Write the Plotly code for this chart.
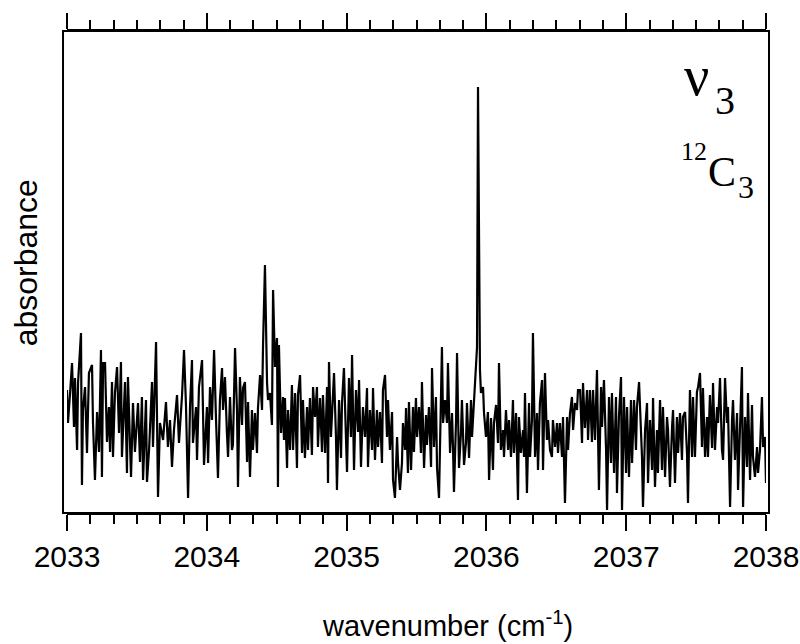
import plotly.graph_objects as go

wavenumber = [
    2033.000, 2033.007, 2033.021, 2033.036, 2033.050, 2033.057, 2033.072, 2033.079, 2033.100, 2033.107,
    2033.114, 2033.129, 2033.143, 2033.157, 2033.179, 2033.186, 2033.200, 2033.215, 2033.229, 2033.243,
    2033.250, 2033.258, 2033.272, 2033.286, 2033.300, 2033.308, 2033.322, 2033.329, 2033.343, 2033.358,
    2033.372, 2033.386, 2033.393, 2033.415, 2033.429, 2033.436, 2033.458, 2033.472, 2033.486, 2033.508,
    2033.522, 2033.536, 2033.544, 2033.565, 2033.572, 2033.587, 2033.608, 2033.615, 2033.637, 2033.651,
    2033.665, 2033.687, 2033.708, 2033.722, 2033.737, 2033.751, 2033.765, 2033.787, 2033.801, 2033.823,
    2033.837, 2033.851, 2033.866, 2033.880, 2033.894, 2033.901, 2033.923, 2033.930, 2033.944, 2033.966,
    2033.980, 2034.001, 2034.009, 2034.023, 2034.037, 2034.052, 2034.066, 2034.080, 2034.094, 2034.109,
    2034.116, 2034.130, 2034.144, 2034.152, 2034.166, 2034.180, 2034.187, 2034.202, 2034.216, 2034.223,
    2034.237,
    2034.252, 2034.259, 2034.273, 2034.288, 2034.295, 2034.309, 2034.323, 2034.330, 2034.345, 2034.359,
    2034.366, 2034.381, 2034.395, 2034.402, 2034.416, 2034.431, 2034.438, 2034.452, 2034.466, 2034.474,
    2034.488, 2034.502, 2034.509, 2034.516, 2034.531, 2034.545, 2034.552, 2034.559, 2034.574, 2034.581,
    2034.595, 2034.609, 2034.617, 2034.631, 2034.645, 2034.652, 2034.667, 2034.681, 2034.688, 2034.702,
    2034.717, 2034.724, 2034.738, 2034.752, 2034.760, 2034.774, 2034.788, 2034.795, 2034.810, 2034.824,
    2034.831, 2034.846, 2034.860, 2034.867, 2034.874, 2034.888, 2034.903, 2034.910, 2034.924, 2034.931,
    2034.946, 2034.960, 2034.967, 2034.981, 2034.996, 2035.003, 2035.017, 2035.031, 2035.039, 2035.053,
    2035.067, 2035.082, 2035.089, 2035.103, 2035.117, 2035.132, 2035.146, 2035.153, 2035.167, 2035.182,
    2035.189, 2035.203, 2035.217, 2035.225, 2035.239, 2035.253, 2035.260, 2035.275, 2035.289, 2035.296,
    2035.310, 2035.325, 2035.332, 2035.346, 2035.361, 2035.368,
    2035.382, 2035.396, 2035.403, 2035.418, 2035.425, 2035.439, 2035.446, 2035.461, 2035.475, 2035.482,
    2035.496, 2035.504, 2035.518, 2035.532, 2035.539, 2035.554, 2035.568, 2035.575, 2035.589, 2035.604,
    2035.611, 2035.625, 2035.639, 2035.647, 2035.661, 2035.675, 2035.682, 2035.690, 2035.704, 2035.718,
    2035.725, 2035.740, 2035.754, 2035.761, 2035.768, 2035.783, 2035.790, 2035.804, 2035.818, 2035.825,
    2035.840, 2035.854, 2035.861, 2035.876, 2035.890, 2035.897, 2035.911, 2035.926, 2035.933, 2035.940,
    2035.954, 2035.961, 2035.976, 2035.983, 2035.997, 2036.011, 2036.019, 2036.033, 2036.047, 2036.054,
    2036.069, 2036.083, 2036.090, 2036.104, 2036.119, 2036.126, 2036.140, 2036.155, 2036.162, 2036.176,
    2036.190, 2036.197, 2036.212, 2036.226, 2036.233, 2036.247, 2036.262, 2036.269, 2036.276, 2036.290,
    2036.305, 2036.312, 2036.326, 2036.333, 2036.348, 2036.362, 2036.369, 2036.383, 2036.398, 2036.405,
    2036.419, 2036.433, 2036.441, 2036.455, 2036.469, 2036.476, 2036.491, 2036.505, 2036.512, 2036.526,
    2036.541, 2036.548, 2036.562, 2036.577, 2036.584, 2036.598, 2036.612, 2036.620, 2036.634, 2036.648,
    2036.655,
    2036.670, 2036.684, 2036.691, 2036.705, 2036.720, 2036.727, 2036.741, 2036.755, 2036.763, 2036.777,
    2036.791, 2036.805, 2036.820, 2036.827, 2036.841, 2036.856, 2036.863, 2036.877, 2036.891, 2036.898,
    2036.913, 2036.927, 2036.934, 2036.948, 2036.963, 2036.970, 2036.984, 2036.999, 2037.006, 2037.020,
    2037.034, 2037.042, 2037.056, 2037.070, 2037.077, 2037.092, 2037.113, 2037.120, 2037.135, 2037.149,
    2037.156, 2037.170, 2037.185, 2037.192, 2037.206, 2037.220, 2037.227, 2037.242, 2037.256, 2037.263,
    2037.278, 2037.292, 2037.299, 2037.313, 2037.328, 2037.335, 2037.349, 2037.363, 2037.371, 2037.385,
    2037.399, 2037.406, 2037.421, 2037.435, 2037.442, 2037.456, 2037.471, 2037.478, 2037.492, 2037.506,
    2037.514, 2037.528, 2037.542, 2037.549, 2037.564, 2037.578, 2037.585, 2037.599, 2037.614, 2037.621,
    2037.635, 2037.650, 2037.657, 2037.671, 2037.685, 2037.693, 2037.707, 2037.721, 2037.728, 2037.743,
    2037.757, 2037.764, 2037.778, 2037.793, 2037.800, 2037.814, 2037.828, 2037.836, 2037.850, 2037.864,
    2037.871, 2037.886, 2037.900, 2037.907, 2037.921, 2037.936, 2037.943, 2037.957, 2037.971, 2037.979,
    2037.993, 2038.000,
]

# absorbance (arbitrary units) of each point
absorbance = [
    130, 97, 125, 157, 93, 142, 70, 137, 187, 35,
    110, 133, 67, 147, 155, 97, 40, 108, 68, 170,
    43, 157, 157, 78, 113, 68, 138, 63, 127, 153,
    87, 158, 63, 138, 47, 143, 43, 117, 68, 117,
    58, 123, 40, 120, 38, 70, 138, 73, 178, 23,
    97, 80, 118, 73, 100, 53, 90, 125, 77, 125,
    170, 115, 22, 113, 160, 77, 113, 60, 133, 160,
    55, 113, 57, 133, 100, 170, 100, 42, 120, 152,
    110, 143, 87, 63, 123, 70, 75, 172, 110, 33,
    143,
    95, 132, 138, 58, 118, 43, 110, 70, 107, 67,
    112, 145, 110, 173, 255, 137, 120, 127, 95, 230,
    153, 182, 33, 175, 87, 123, 80, 122, 52, 110,
    70, 135, 70, 127, 52, 125, 145, 67, 120, 62,
    113, 70, 122, 65, 133, 103, 133, 73, 122, 68,
    125, 67, 133, 37, 158, 83, 123, 147, 83, 30,
    120, 62, 117, 152, 80, 48, 142, 83, 165, 50,
    130, 88, 140, 53, 113, 83, 132, 53, 110, 70,
    132, 60, 110, 73, 108, 57, 130, 145, 83, 120,
    70, 108, 40, 22, 83, 57,
    30, 57, 97, 70, 112, 47, 118, 50, 113, 68,
    122, 83, 113, 67, 138, 52, 105, 75, 113, 53,
    152, 73, 123, 52, 22, 150, 173, 97, 120, 97,
    157, 67, 107, 73, 28, 100, 167, 52, 87, 120,
    55, 77, 117, 62, 120, 83, 120, 160, 173, 433,
    150, 127, 133, 107, 83, 108, 40, 102, 50, 97,
    115, 77, 157, 70, 90, 63, 110, 70, 100, 63,
    120, 67, 107, 20, 103, 67, 90, 63, 127, 27,
    117, 63, 100, 187, 63, 107, 50, 117, 140, 50,
    147, 80, 100, 70, 63, 100, 73, 97, 67, 97,
    63, 103, 17, 103, 70, 107, 123, 90, 117, 110,
    130,
    130, 77, 137, 92, 130, 80, 130, 78, 130, 80,
    150, 30, 133, 93, 140, 70, 10, 123, 57, 127,
    47, 123, 27, 103, 143, 10, 123, 47, 113, 43,
    120, 57, 120, 70, 113, 138, 63, 13, 90, 117,
    37, 100, 50, 122, 33, 90, 47, 120, 50, 113,
    43, 103, 90, 33, 93, 110, 37, 103, 67, 107,
    60, 103, 108, 67, 17, 130, 63, 123, 63, 128,
    133, 147, 73, 132, 63, 103, 63, 125, 72, 137,
    70, 113, 97, 142, 70, 60, 142, 97, 113, 13,
    100, 120, 60, 107, 30, 97, 153, 13, 103, 53,
    127, 40, 115, 63, 43, 73, 47, 70, 123, 73,
    83, 37,
]

assert len(wavenumber) == len(absorbance), (len(wavenumber), len(absorbance))

x_range = [2033, 2038]
y_range = [7, 489]
x_tick_step = 1
x_minor_step = 1 / 6

FONT = "Liberation Sans, Arial, sans-serif"
SERIF = "Liberation Serif, Times New Roman, serif"

fig = go.Figure()
fig.add_trace(go.Scatter(
    x=wavenumber, y=absorbance, mode="lines",
    line=dict(color="black", width=2.2),
    hoverinfo="skip", showlegend=False,
))

fig.update_layout(
    width=800, height=644,
    margin=dict(l=67, r=34, t=31, b=131, pad=0, autoexpand=False),
    paper_bgcolor="white", plot_bgcolor="white",
    font=dict(family=FONT, color="black"),
    showlegend=False,
)

fig.update_xaxes(
    range=x_range, tick0=2033, dtick=x_tick_step, automargin=False,
    ticks="outside", ticklen=16, tickwidth=2, tickcolor="black",
    showline=True, linewidth=2, linecolor="black", mirror="ticks",
    minor=dict(dtick=x_minor_step, tick0=2033, ticks="outside", ticklen=9,
               tickwidth=2, tickcolor="black", showgrid=False),
    tickfont=dict(family=FONT, size=30, color="black"),
    showgrid=False, zeroline=False,
)
fig.update_yaxes(
    range=y_range, showticklabels=False, ticks="", showgrid=False,
    zeroline=False, showline=False, automargin=False,
)

# frame
fig.add_shape(type="rect", xref="paper", yref="paper",
              x0=-0.0057, x1=1.0043, y0=0, y1=1,
              line=dict(color="black", width=2), layer="above")

fig.add_annotation(text="wavenumber (cm<sup>-1</sup>)", xref="paper", yref="paper",
                   x=0.544, y=-0.2718, xanchor="center", yanchor="bottom",
                   showarrow=False, font=dict(family=FONT, size=29, color="black"))
fig.add_annotation(text="absorbance", xref="paper", yref="paper",
                   x=-0.0587, y=0.52, xanchor="center", yanchor="middle", textangle=-90,
                   showarrow=False, font=dict(family=FONT, size=32, color="black"))

labels = [
    ("ν", 0.901, 0.907, 56),
    ("3", 0.941, 0.855, 40),
    ("12", 0.897, 0.749, 26),
    ("C", 0.937, 0.707, 42),
    ("3", 0.971, 0.676, 32),
]
for txt, xp, yp, sz in labels:
    fig.add_annotation(text=txt, xref="paper", yref="paper", x=xp, y=yp,
                       xanchor="center", yanchor="middle", showarrow=False,
                       font=dict(family=SERIF, size=sz, color="black"))

fig.write_html("out.html")
